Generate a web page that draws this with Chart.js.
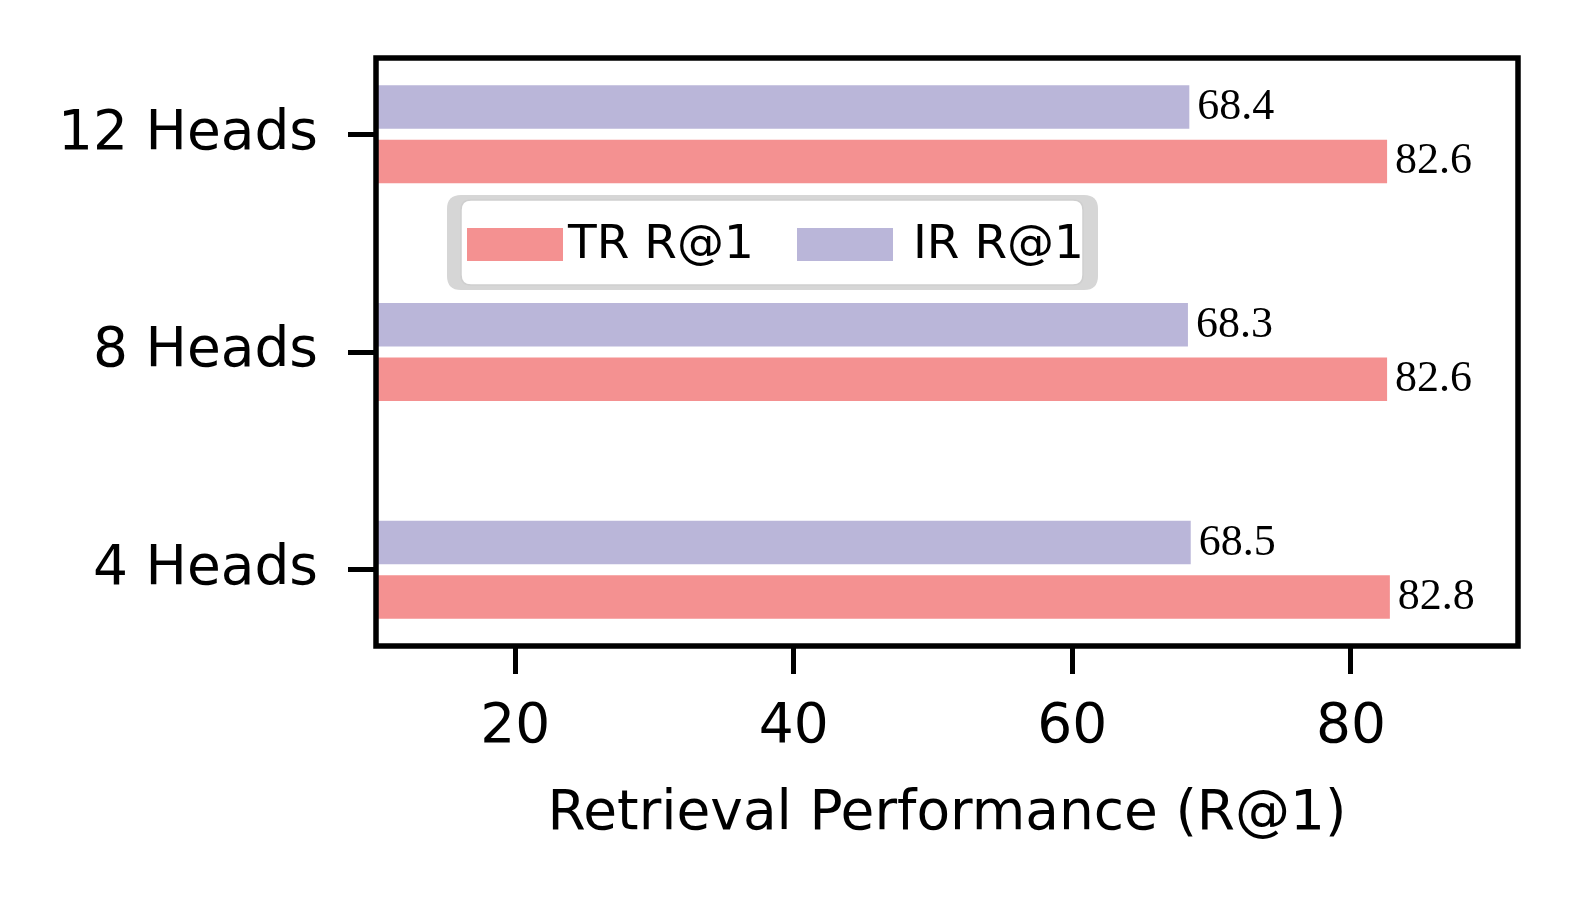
<!DOCTYPE html>
<html>
<head>
<meta charset="utf-8">
<title>Retrieval Performance by Heads</title>
<script src="https://cdn.jsdelivr.net/npm/chart.js@4.4.1/dist/chart.umd.min.js"></script>
<style>
  html, body { margin: 0; padding: 0; background: #fff; }
  #wrap { width: 1575px; height: 899px; }
</style>
</head>
<body>
<div id="wrap"><canvas id="chart" width="1575" height="899"></canvas></div>
<script>
// Data
const categories = ['12 Heads', '8 Heads', '4 Heads'];
const trValues = [82.6, 82.6, 82.8];
const irValues = [68.4, 68.3, 68.5];
const xTicks = [20, 40, 60, 80];
const seriesLabels = ['TR R@1', 'IR R@1'];

const trColor = '#f49191';
const irColor = '#bab6d9';
const sans = 'DejaVu Sans';

function roundRect(ctx, x, y, w, h, r) {
  ctx.beginPath();
  ctx.moveTo(x + r, y);
  ctx.lineTo(x + w - r, y);
  ctx.quadraticCurveTo(x + w, y, x + w, y + r);
  ctx.lineTo(x + w, y + h - r);
  ctx.quadraticCurveTo(x + w, y + h, x + w - r, y + h);
  ctx.lineTo(x + r, y + h);
  ctx.quadraticCurveTo(x, y + h, x, y + h - r);
  ctx.lineTo(x, y + r);
  ctx.quadraticCurveTo(x, y, x + r, y);
  ctx.closePath();
}

// value labels, frame and legend box
const extras = {
  id: 'extras',
  afterDatasetsDraw(chart) {
    const ctx = chart.ctx;
    const a = chart.chartArea;
    ctx.save();

    ctx.font = '44px "Liberation Serif"';
    ctx.fillStyle = '#000';
    ctx.textAlign = 'left';
    ctx.textBaseline = 'alphabetic';
    chart.data.datasets.forEach((ds, di) => {
      chart.getDatasetMeta(di).data.forEach((bar, i) => {
        ctx.fillText(ds.data[i].x.toFixed(1), bar.x + 8, bar.y + 12);
      });
    });

    ctx.lineWidth = 5.5;
    ctx.strokeStyle = '#000';
    ctx.strokeRect(a.left, a.top, a.right - a.left, a.bottom - a.top);

    // legend
    roundRect(ctx, 447, 195, 651, 95, 14);
    ctx.fillStyle = '#d6d6d6';
    ctx.fill();
    roundRect(ctx, 461, 200, 622, 85, 10);
    ctx.fillStyle = '#fff';
    ctx.fill();
    ctx.lineWidth = 1.5;
    ctx.strokeStyle = '#cfcfcf';
    ctx.stroke();

    const items = [
      { label: seriesLabels[0], color: trColor, sx: 467, tx: 568 },
      { label: seriesLabels[1], color: irColor, sx: 797, tx: 913 }
    ];
    ctx.font = '47px "' + sans + '"';
    ctx.textBaseline = 'middle';
    items.forEach(it => {
      ctx.fillStyle = it.color;
      ctx.fillRect(it.sx, 228, 96, 33);
      ctx.fillStyle = '#000';
      ctx.fillText(it.label, it.tx, 246);
    });

    ctx.restore();
  }
};

const ctx = document.getElementById('chart');

new Chart(ctx, {
  type: 'bar',
  data: {
    datasets: [
      {
        label: seriesLabels[1],
        data: irValues.map((v, i) => ({ x: v, y: i })),
        backgroundColor: irColor,
        borderWidth: 0
      },
      {
        label: seriesLabels[0],
        data: trValues.map((v, i) => ({ x: v, y: i })),
        backgroundColor: trColor,
        borderWidth: 0
      }
    ]
  },
  options: {
    indexAxis: 'y',
    responsive: false,
    animation: false,
    devicePixelRatio: 1,
    categoryPercentage: 0.5,
    barPercentage: 0.8,
    layout: { padding: { top: 58, right: 57, left: 0, bottom: 0 } },
    plugins: {
      legend: { display: false },
      tooltip: { enabled: false }
    },
    scales: {
      y: {
        type: 'linear',
        reverse: true,
        offset: false,
        min: -0.35,
        max: 2.35,
        afterBuildTicks: s => { s.ticks = categories.map((c, i) => ({ value: i })); },
        afterFit: s => {
          s.width = 376;
          s.paddingTop = 0;
          s.paddingBottom = 0;
        },
        ticks: {
          callback: v => categories[v],
          font: { family: sans, size: 55 },
          color: '#000',
          padding: 30
        },
        grid: { offset: false, drawOnChartArea: false, tickLength: 28, tickWidth: 5, tickColor: '#000' },
        border: { display: false }
      },
      x: {
        type: 'linear',
        min: 10,
        max: 92,
        afterBuildTicks: s => { s.ticks = xTicks.map(v => ({ value: v })); },
        afterFit: s => { s.height = 899 - 646; },
        ticks: {
          font: { family: sans, size: 55 },
          color: '#000',
          padding: 21
        },
        grid: { drawOnChartArea: false, tickLength: 28, tickWidth: 5, tickColor: '#000' },
        border: { display: false },
        title: {
          display: true,
          text: 'Retrieval Performance (R@1)',
          font: { family: sans, size: 55 },
          color: '#000',
          padding: { top: 0, bottom: 51 }
        }
      }
    }
  },
  plugins: [extras]
});
</script>
</body>
</html>
